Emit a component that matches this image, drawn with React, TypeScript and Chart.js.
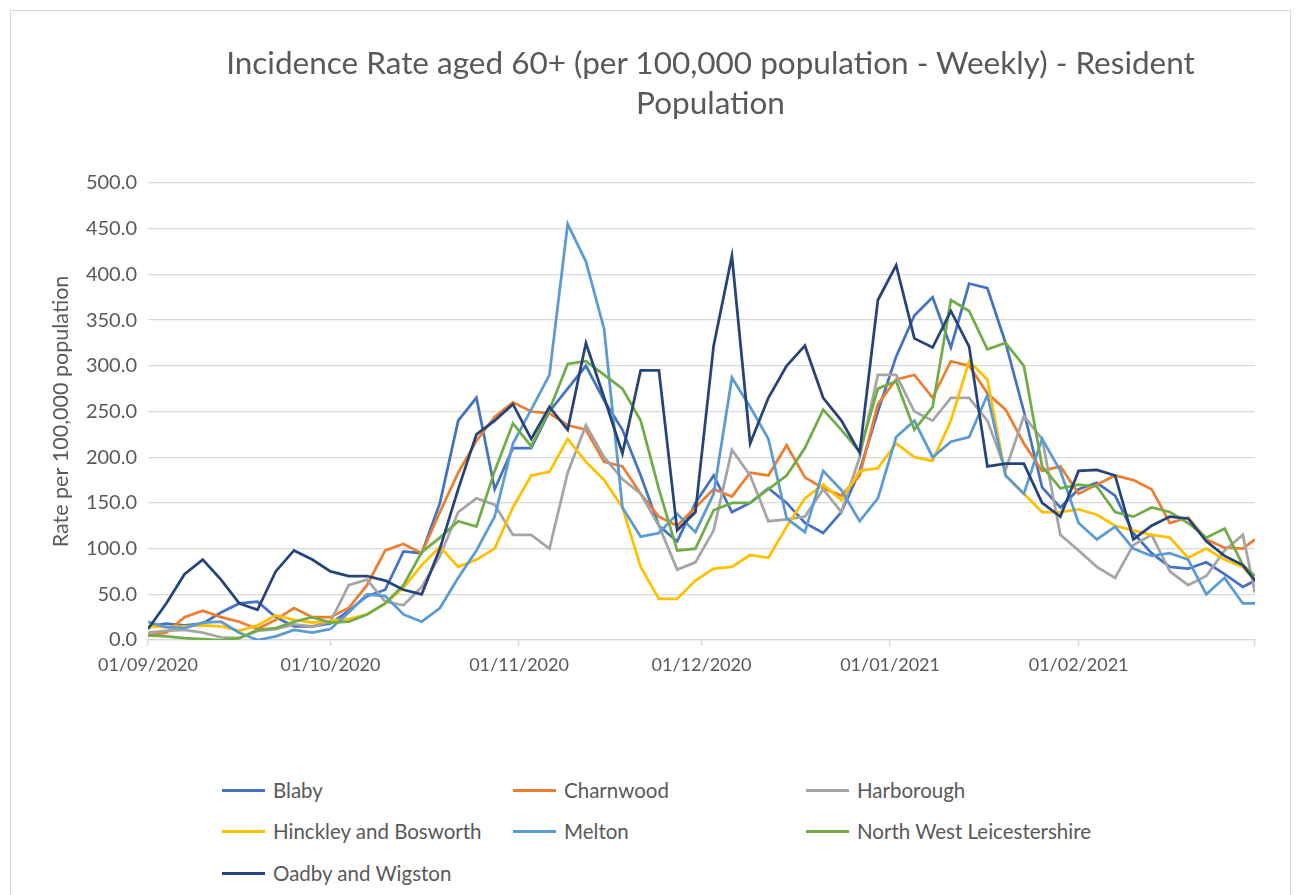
import React, { useEffect, useRef } from "react";
import { Chart, registerables } from "chart.js";

Chart.register(...registerables);

// day index since 01/09/2020
const sampleDays = [
  0, 3, 6, 9, 12, 15, 18, 21, 24, 27,
  30, 33, 36, 39, 42, 45, 48, 51, 54, 57,
  60, 63, 66, 69, 72, 75, 78, 81, 84, 87,
  90, 93, 96, 99, 102, 105, 108, 111, 114, 117,
  120, 123, 126, 129, 132, 135, 138, 141, 144, 147,
  150, 153, 156, 159, 162, 165, 168, 171, 174, 177,
  180, 182,
];

const tickDays = [0, 30, 61, 91, 122, 153, 182];
const tickLabels = ["01/09/2020", "01/10/2020", "01/11/2020", "01/12/2020", "01/01/2021", "01/02/2021", ""];

const blaby = [
  15, 18, 16, 18, 30, 40, 42, 25, 15, 15,
  18, 32, 48, 55, 97, 95, 150, 240, 265, 165,
  210, 210, 250, 275, 300, 262, 230, 180, 125, 108,
  150, 180, 140, 150, 166, 150, 128, 117, 140, 185,
  250, 310, 355, 375, 320, 390, 385, 325, 250, 167,
  145, 165, 172, 158, 117, 95, 80, 78, 85, 72,
  58, 65,
];
const charnwood = [
  5, 8, 25, 32, 25, 20, 12, 22, 35, 25,
  25, 35, 60, 98, 105, 95, 140, 183, 218, 244,
  260, 250, 248, 235, 230, 195, 190, 160, 135, 125,
  145, 165, 157, 183, 180, 213, 178, 166, 158, 180,
  258, 285, 290, 265, 305, 300, 270, 252, 215, 185,
  190, 160, 170, 180, 175, 165, 128, 134, 110, 101,
  100, 110,
];
const harborough = [
  8, 10, 11, 8, 3, 2, 10, 12, 17, 15,
  20, 60, 66, 42, 38, 58, 92, 140, 155, 148,
  115, 115, 100, 183, 235, 200, 176, 160, 125, 77,
  85, 120, 208, 180, 130, 132, 135, 165, 140, 200,
  290, 290, 250, 240, 265, 265, 240, 186, 245, 220,
  115, 98, 80, 68, 104, 115, 75, 60, 70, 98,
  115, 52,
];
const hinckley = [
  15, 14, 15, 16, 15, 10, 16, 27, 22, 19,
  21, 23, 28, 40, 57, 82, 102, 80, 88, 100,
  145, 180, 184, 220, 195, 175, 145, 80, 45, 45,
  65, 78, 80, 93, 90, 124, 155, 170, 153, 185,
  188, 215, 200, 196, 240, 305, 285, 180, 160, 140,
  140, 143, 137, 125, 120, 115, 112, 90, 100, 88,
  80, 65,
];
const melton = [
  20, 14, 13, 19, 20, 8, 0, 4, 11, 8,
  12, 30, 50, 48, 28, 20, 35, 68, 98, 135,
  215, 252, 290, 455, 414, 340, 145, 113, 117, 138,
  118, 160, 287, 255, 220, 133, 118, 185, 164, 130,
  155, 222, 240, 200, 217, 222, 268, 180, 160, 220,
  185, 128, 110, 124, 100, 92, 95, 88, 50, 68,
  40, 40,
];
const northWest = [
  5, 4, 2, 1, 0, 2, 11, 13, 20, 25,
  19, 20, 28, 40, 60, 96, 112, 130, 124, 185,
  237, 212, 252, 302, 305, 290, 275, 240, 165, 98,
  100, 142, 150, 150, 165, 180, 210, 252, 230, 206,
  275, 283, 230, 255, 372, 360, 318, 325, 300, 190,
  166, 170, 168, 140, 135, 145, 140, 128, 112, 122,
  82, 70,
];
const oadby = [
  12, 40, 72, 88, 66, 40, 33, 75, 98, 88,
  75, 70, 70, 65, 55, 50, 100, 165, 225, 240,
  258, 220, 255, 230, 325, 265, 204, 295, 295, 120,
  140, 322, 420, 215, 265, 300, 322, 265, 240, 205,
  372, 410, 330, 320, 360, 321, 190, 193, 193, 150,
  135, 185, 186, 180, 110, 125, 135, 133, 108, 92,
  82, 65,
];

const seriesNames = [
  "Blaby",
  "Charnwood",
  "Harborough",
  "Hinckley and Bosworth",
  "Melton",
  "North West Leicestershire",
  "Oadby and Wigston",
];
const seriesValues = [blaby, charnwood, harborough, hinckley, melton, northWest, oadby];
const seriesColors = ["#4472C4", "#ED7D31", "#A5A5A5", "#FFC000", "#5B9BD5", "#70AD47", "#264478"];

const TEXT = "#595959";
const GRID = "#D9D9D9";
const FONT = "Lato, 'Open Sans', sans-serif";

export default function App() {
  const canvasRef = useRef<HTMLCanvasElement | null>(null);

  useEffect(() => {
    const ctx = canvasRef.current;
    if (!ctx) return;
    const chart = new Chart(ctx, {
      type: "line",
      data: {
        datasets: seriesNames.map((name, i) => ({
          label: name,
          data: sampleDays.map((d, j) => ({ x: d, y: seriesValues[i][j] })),
          borderColor: seriesColors[i],
          backgroundColor: seriesColors[i],
          borderWidth: 2.75,
          pointRadius: 0,
          tension: 0,
          fill: false,
          order: seriesNames.length - 1 - i,
        })),
      },
      options: {
        animation: false,
        responsive: false,
        maintainAspectRatio: false,
        layout: { padding: { left: 46, right: 45, top: 183, bottom: 0 } },
        plugins: {
          legend: { display: false },
          title: { display: false },
          tooltip: { enabled: false },
        },
        scales: {
          x: {
            type: "linear",
            min: 0,
            max: 182,
            afterBuildTicks: (s: any) => {
              s.ticks = tickDays.map((v) => ({ value: v }));
            },
            afterFit: (s: any) => {
              s.height = 60;
            },
            ticks: {
              autoSkip: false,
              maxRotation: 0,
              minRotation: 0,
              padding: 8,
              color: TEXT,
              font: { family: FONT, size: 18 },
              callback: (v: any) => {
                const k = tickDays.indexOf(Number(v));
                return k >= 0 ? tickLabels[k] : "";
              },
            },
            grid: {
              drawOnChartArea: false,
              drawTicks: true,
              tickLength: 6,
              color: GRID,
              lineWidth: 1.3,
            },
            border: { color: GRID, width: 1.3 },
          },
          y: {
            min: 0,
            max: 500,
            afterFit: (s: any) => {
              s.width = 102;
            },
            ticks: {
              stepSize: 50,
              padding: 11,
              color: TEXT,
              font: { family: FONT, size: 20 },
              callback: (v: any) => Number(v).toFixed(1),
            },
            grid: { color: GRID, lineWidth: 1.3, drawTicks: false },
            border: { display: false },
            title: {
              display: true,
              text: "Rate per 100,000 population",
              color: TEXT,
              font: { family: FONT, size: 21.5 },
              padding: { top: 2, bottom: 2 },
            },
          },
        },
      },
    } as any);
    return () => chart.destroy();
  }, []);

  const legendCols = [222, 513, 806];
  const legendRows = [790, 831, 873];

  return (
    <div style={{ position: "fixed", left: 0, top: 0, width: 1300, height: 895, background: "#fff", overflow: "hidden" }}>
      <div
        style={{
          position: "absolute",
          left: 10,
          top: 10,
          width: 1279,
          height: 900,
          border: `1px solid ${GRID}`,
          background: "#fff",
        }}
      />
      <canvas
        ref={canvasRef}
        width={1300}
        height={700}
        style={{ position: "absolute", left: 0, top: 0, width: 1300, height: 700 }}
      />
      <div
        style={{
          position: "absolute",
          left: 110,
          width: 1201,
          top: 42,
          textAlign: "center",
          fontFamily: FONT,
          fontSize: 31.5,
          lineHeight: "40px",
          color: TEXT,
          whiteSpace: "nowrap",
        }}
      >
        Incidence Rate aged 60+ (per 100,000 population - Weekly) - Resident
        <br />
        Population
      </div>
      {seriesNames.map((name, i) => {
        const col = i % 3;
        const row = Math.floor(i / 3);
        const x = legendCols[col];
        const y = legendRows[row];
        return (
          <div key={name}>
            <div
              style={{
                position: "absolute",
                left: x,
                top: y - 1.5,
                width: 43,
                height: 3,
                background: seriesColors[i],
              }}
            />
            <div
              style={{
                position: "absolute",
                left: x + 51,
                top: y - 13,
                height: 26,
                lineHeight: "26px",
                fontFamily: FONT,
                fontSize: 20.5,
                color: TEXT,
                whiteSpace: "nowrap",
              }}
            >
              {name}
            </div>
          </div>
        );
      })}
    </div>
  );
}
